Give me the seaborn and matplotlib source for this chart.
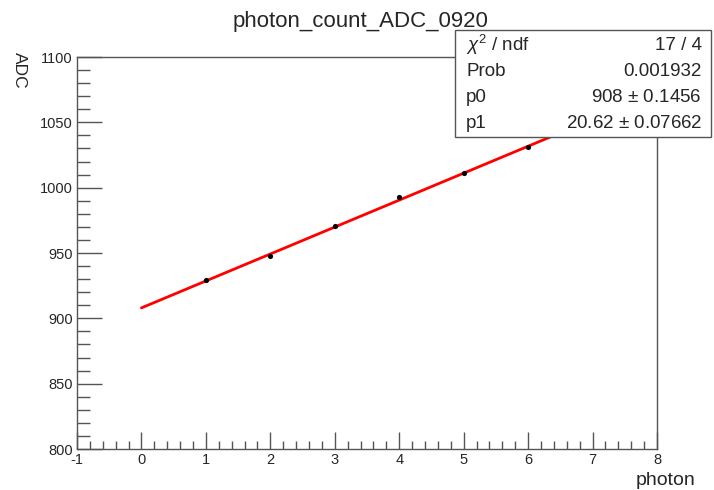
import numpy as np
import pandas as pd
import matplotlib
matplotlib.use("Agg")
import matplotlib.pyplot as plt
from matplotlib.patches import Rectangle
from matplotlib.ticker import MultipleLocator
import seaborn as sns

# Measured points and linear fit parameters
photon = [1, 2, 3, 4, 5, 6]
adc = [929, 948, 971, 993, 1011, 1031]
p0 = 908.0
p1 = 20.62
fit_x = [0, 7]

stat_names = ["$\\chi^{2}$ / ndf", "Prob", "p0", "p1"]
stat_values = ["17 / 4", "0.001932", "908 $\\pm$ 0.1456", "20.62 $\\pm$ 0.07662"]

sns.set_theme(style="white")
plt.rcParams["font.family"] = ["Liberation Sans", "DejaVu Sans"]
plt.rcParams["mathtext.fontset"] = "custom"
plt.rcParams["mathtext.rm"] = "Liberation Sans"
plt.rcParams["mathtext.it"] = "Liberation Sans:italic"
plt.rcParams["axes.unicode_minus"] = False

W, H = 714, 490
fig = plt.figure(figsize=(W / 100, H / 100), dpi=100)
ax = fig.add_axes([77 / W, 1 - 449 / H, (657 - 77) / W, (449 - 57) / H])

pts = pd.DataFrame({"photon": photon, "ADC": adc})
fit = pd.DataFrame({"photon": fit_x, "ADC": [p0 + p1 * v for v in fit_x]})

sns.lineplot(data=fit, x="photon", y="ADC", color="#ff0000", linewidth=2, ax=ax, zorder=2)
sns.scatterplot(data=pts, x="photon", y="ADC", color="black", s=14, edgecolor="black",
                linewidth=0, ax=ax, zorder=3)

ax.set_xlim(-1, 8)
ax.set_ylim(800, 1100)
ax.xaxis.set_major_locator(MultipleLocator(1))
ax.xaxis.set_minor_locator(MultipleLocator(0.2))
ax.yaxis.set_major_locator(MultipleLocator(50))
ax.yaxis.set_minor_locator(MultipleLocator(10))
tc = "#555555"
ax.tick_params(axis="x", which="major", direction="in", length=12, width=1, color=tc,
               labelsize=10.5, pad=3, bottom=True, top=False)
ax.tick_params(axis="x", which="minor", direction="in", length=6, width=1, color=tc,
               bottom=True, top=False)
ax.tick_params(axis="y", which="major", direction="in", length=18, width=1, color=tc,
               labelsize=10.5, pad=3, left=True, right=False)
ax.tick_params(axis="y", which="minor", direction="in", length=9, width=1, color=tc,
               left=True, right=False)
for sp in ax.spines.values():
    sp.set_color(tc)
    sp.set_linewidth(1)
ax.set_xlabel("")
ax.set_ylabel("")

fig.text(360 / W, 1 - 21 / H, "photon_count_ADC_0920", ha="center", va="center", fontsize=16)
fig.text(695 / W, 1 - 480 / H, "photon", ha="right", va="center", fontsize=14)
fig.text(19 / W, 1 - 52 / H, "ADC", ha="center", va="top", rotation=270, fontsize=12.5)

# Fit statistics box
bx0, by0, bx1, by1 = 455 / W, 1 - 137 / H, 711 / W, 1 - 30 / H
fig.patches.append(Rectangle((bx0, by0), bx1 - bx0, by1 - by0, transform=fig.transFigure,
                             facecolor="white", edgecolor=tc, linewidth=1, zorder=5))
rows_y = [45, 71, 97, 124]
for name, val, ry in zip(stat_names, stat_values, rows_y):
    fig.text(466 / W, 1 - ry / H, name, ha="left", va="center", fontsize=13.5, zorder=6)
    fig.text(702 / W, 1 - ry / H, val, ha="right", va="center", fontsize=13.5, zorder=6)

fig.savefig("out.png", dpi=100, facecolor="white")
